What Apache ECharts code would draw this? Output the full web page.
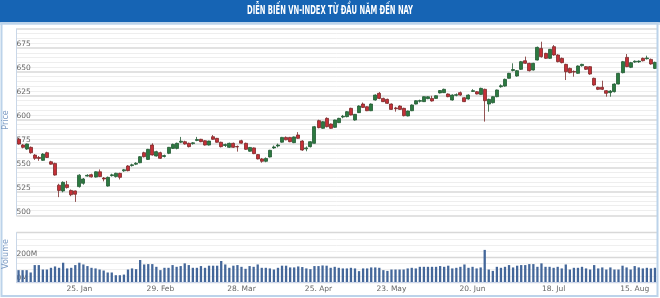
<!DOCTYPE html>
<html><head><meta charset="utf-8">
<script src="https://cdn.jsdelivr.net/npm/echarts@6/dist/echarts.min.js"></script>
<style>html,body{margin:0;padding:0;background:#fff}#c{width:660px;height:298px}</style>
</head><body><div id="c"></div>
<script>
const titleText = 'DIỄN BIẾN VN-INDEX TỪ ĐẦU NĂM ĐẾN NAY';
const priceName = 'Price';
const volumeName = 'Volume';

const dates = [
'2016-01-04','2016-01-05','2016-01-06','2016-01-07','2016-01-08','2016-01-11','2016-01-12','2016-01-13','2016-01-14','2016-01-15',
'2016-01-18','2016-01-19','2016-01-20','2016-01-21','2016-01-22','2016-01-25','2016-01-26','2016-01-27','2016-01-28','2016-01-29',
'2016-02-01','2016-02-02','2016-02-03','2016-02-04','2016-02-05','2016-02-15','2016-02-16','2016-02-17','2016-02-18','2016-02-19',
'2016-02-22','2016-02-23','2016-02-24','2016-02-25','2016-02-26','2016-02-29','2016-03-01','2016-03-02','2016-03-03','2016-03-04',
'2016-03-07','2016-03-08','2016-03-09','2016-03-10','2016-03-11','2016-03-14','2016-03-15','2016-03-16','2016-03-17','2016-03-18',
'2016-03-21','2016-03-22','2016-03-23','2016-03-24','2016-03-25','2016-03-28','2016-03-29','2016-03-30','2016-03-31','2016-04-01',
'2016-04-04','2016-04-05','2016-04-06','2016-04-07','2016-04-08','2016-04-11','2016-04-12','2016-04-13','2016-04-14','2016-04-15',
'2016-04-19','2016-04-20','2016-04-21','2016-04-22','2016-04-25','2016-04-26','2016-04-27','2016-04-28','2016-04-29','2016-05-04',
'2016-05-05','2016-05-06','2016-05-09','2016-05-10','2016-05-11','2016-05-12','2016-05-13','2016-05-16','2016-05-17','2016-05-18',
'2016-05-19','2016-05-20','2016-05-23','2016-05-24','2016-05-25','2016-05-26','2016-05-27','2016-05-30','2016-05-31','2016-06-01',
'2016-06-02','2016-06-03','2016-06-06','2016-06-07','2016-06-08','2016-06-09','2016-06-10','2016-06-13','2016-06-14','2016-06-15',
'2016-06-16','2016-06-17','2016-06-20','2016-06-21','2016-06-22','2016-06-23','2016-06-24','2016-06-27','2016-06-28','2016-06-29',
'2016-06-30','2016-07-01','2016-07-04','2016-07-05','2016-07-06','2016-07-07','2016-07-08','2016-07-11','2016-07-12','2016-07-13',
'2016-07-14','2016-07-15','2016-07-18','2016-07-19','2016-07-20','2016-07-21','2016-07-22','2016-07-25','2016-07-26','2016-07-27',
'2016-07-28','2016-07-29','2016-08-01','2016-08-02','2016-08-03','2016-08-04','2016-08-05','2016-08-08','2016-08-09','2016-08-10',
'2016-08-11','2016-08-12','2016-08-15','2016-08-16','2016-08-17','2016-08-18','2016-08-19','2016-08-22'
];

const opens = [
579.5,573.5,569.3,571.1,563,560.5,557.5,565.5,556,554.3,
531.5,525.5,532,526,525.5,530,533.5,541,542.5,540,
545.5,539,530.6,541.5,540.5,543.9,546.5,551.6,552,553.5,
555,565.5,558.5,573.5,562,565.5,561.5,564.8,570,570,
576.5,577,575.3,575,578.3,579.5,578,573.5,582.2,580.5,
576.4,573,571.1,575.3,572,578,575.3,567,570.5,563.5,
559,556.5,561,570.5,572.5,576.5,581.5,581.5,576,584,
577.7,569.5,571.8,575.3,599,591,601.4,595.5,592,596.9,
602.8,603.2,611.9,599.7,607.4,616.4,613.6,609.4,620.6,627.6,
622.3,621.3,616.4,612.3,614.3,611.9,603.9,609.4,616.4,619.3,
618.9,622,622.3,622.3,628,628.3,626.9,620.6,625.5,628.3,
623,621.7,629.6,629.3,626.5,631.8,616.4,617.8,624.1,634.5,
635.2,643.3,651.5,645.7,652.7,661.7,659,652,662.4,674.6,
669.4,664.2,676.4,667.7,664.2,657.9,653.7,650.5,648.5,656.5,
655.5,655.5,643.3,633.9,633.9,630.4,628.3,629.3,637.3,649.2,
665.2,654.8,660.3,660.5,664.2,663.8,663.1,653.7
];
const closes = [
574.6,571.1,574.6,565.5,559.6,559.5,564,560.5,553.5,542.1,
526,534.5,529,521.5,522,542,538,541.8,540.2,545.5,
540.5,538,539.7,542.3,544,539.7,547.6,546.7,552.8,554.5,
561.3,561.3,569,563.1,566.6,559.6,562.5,571.1,574.2,575.3,
577.5,574.6,571.8,575.8,579.3,577,573.5,577.7,579.5,576.4,
571.8,574,575.3,571.1,571.5,575.5,569,571,564.5,559,
556.5,559.5,568,571.5,573.5,581.5,579,577,582,580.5,
568.3,570.5,577,592.7,591.7,597.9,592.7,591,599.7,601.4,
603.6,608.4,604.9,605.6,614.3,612.9,609.4,616.4,625.8,622.3,
618.9,617.1,610.8,611.5,610.8,604.2,609.1,615.4,619.9,620,
624.1,624,619.6,625.1,630.5,631.8,624.1,625.8,626.2,625.8,
618.9,625.8,630.4,626.9,632.8,619.9,621.3,624.1,631.1,635.5,
642.2,648.5,652.5,651.3,660.7,659,651.3,659,675.7,665.9,
664.2,673.6,667.7,660.7,659.7,650.2,649.2,649.8,656.2,657.9,
652.7,647.8,636.3,631.8,631.8,627.6,630,637.3,648.5,660.7,
655.5,659.7,661.2,661.3,661.7,664.6,658.3,660
];
const lows = [
574,570,568.5,564.5,558,557,557,560,553,541.5,
519,524,528,520,514,529,532,540.5,539.5,539.5,
540,535.5,530,540.5,539.5,537.5,545.5,546,551,552.5,
554.5,560.5,558,562.5,561.5,559,560.5,564,569.5,569,
575.5,574,571,574,577.5,576.5,573,573,579,576,
571,571.5,570.5,570.5,566.6,575,568.5,566.5,564,558.5,
555,555.5,560.5,569.5,571,576,578.5,576.5,575.5,580,
567.5,567,571,575,591,590.5,592,590.5,591.5,596.5,
601.5,602.5,604.5,599,607,612.5,609,609,620,621.5,
618.5,616.5,610.5,608.4,610.5,603.5,603.5,609,616,618,
618.5,621.5,619,622,627.5,628,623.5,620,624.5,625,
618.5,621,629,626.5,626,598,608.4,617,623.5,633.5,
634.5,643,650.5,645,652,658.5,650.5,651.5,662,665,
663.5,663.5,667,660,659,641.5,648.5,645,648,655.5,
652,647,635.5,631,631,624.1,624.1,628.5,637,648.5,
655,654,659.5,659.5,661,663,657.5,653
];
const highs = [
581,574.5,575,572,564,562,565,566.5,557,555,
533,535.5,536,527,526,543,539,543,543.5,546,
548,540,540.5,543.5,544.5,544.5,548.5,552.5,554,555.5,
562,566.5,569.5,575.3,567.5,566.5,563.5,571.5,575,576,
582,578,576,576.5,582,580,578.5,578,584,581,
577,575,576,576,573,579,576,571.5,571,564,
560,560.5,568.5,573,575,582,582.5,582,582.5,587,
578.5,572,577.5,593.5,600,598.5,602.5,596,600,602,
605,609,612.5,606,615,618,614,617,626.5,629,
623,622,617,613.5,615,612.5,609.5,616,620.5,621,
624.5,624.5,625,625.5,631,632.5,627.5,626.5,627.5,629.5,
623.5,626.5,632,630,633.5,632.5,622,624.5,631.5,637,
643,649,659,652,661.5,666,659.5,659.5,676.5,681.6,
670,674,678.1,668.5,665,658.5,654.5,651.5,656.8,658.5,
656,656,644,634.5,640.8,631,631,638,649,661.5,
668.7,660.5,662,662,665,667,664,660.7
];
// volume in millions of shares
const volumes = [
96,96,96,77,137,137,101,101,115,126,
115,156,110,115,137,156,142,129,115,110,
101,93,77,77,55,55,60,101,110,104,
178,142,145,145,123,96,115,115,137,123,
129,151,137,115,115,129,115,132,132,132,
170,142,115,132,137,123,107,129,123,142,
115,115,110,101,115,132,132,118,118,126,
121,110,104,129,129,134,132,115,123,115,
110,110,115,110,88,110,110,118,118,115,
96,90,101,101,101,101,110,115,110,123,
123,123,123,123,129,123,132,110,115,123,
142,115,123,110,118,260,101,90,123,115,
123,137,118,132,137,137,145,145,123,151,
123,123,115,123,110,142,101,115,115,123,
110,101,137,110,118,101,118,101,101,132,
118,101,129,118,110,115,110,115
];
const tickDates = ['2016-01-25','2016-02-29','2016-03-28','2016-04-25','2016-05-23','2016-06-20','2016-07-18','2016-08-15'];
const tickLabels = ['25. Jan','29. Feb','28. Mar','25. Apr','23. May','20. Jun','18. Jul','15. Aug'];

const candleData = dates.map((d, i) => [opens[i], closes[i], lows[i], highs[i]]);

const chart = echarts.init(document.getElementById('c'), null, {renderer: 'canvas'});

// compress the title like the condensed original
const titleFont = 'bold 11.5px "DejaVu Sans Condensed", "DejaVu Sans", sans-serif';
const cv = document.createElement('canvas').getContext('2d');
cv.font = titleFont;
const tw = cv.measureText(titleText).width;
const titleScale = Math.min(1, 166 / tw);

const labelColor = '#666';
const labelFont = 'DejaVu Sans';
const GL = 16.5, GW = 640.5;

const yLabel = {inside: true, margin: 0, verticalAlign: 'bottom', lineHeight: 7.5,
  fontFamily: labelFont, fontSize: 7.5, color: labelColor, showMaxLabel: false};

chart.setOption({
  animation: false,
  backgroundColor: '#fff',
  grid: [
    {left: GL, width: GW, top: 28.9, height: 186.4},
    {left: GL, width: GW, top: 232.6, height: 49.4}
  ],
  xAxis: [
    {type: 'category', gridIndex: 0, data: dates, boundaryGap: true,
     axisLine: {show: false}, axisTick: {show: false}, axisLabel: {show: false}, splitLine: {show: false}},
    {type: 'category', gridIndex: 1, data: dates, boundaryGap: true,
     axisLine: {show: true, lineStyle: {color: '#ccd6eb', width: 1}},
     axisTick: {show: false},
     axisLabel: {
       show: true, hideOverlap: false, margin: 3,
       fontFamily: labelFont, fontSize: 7.5, color: labelColor,
       interval: (idx, val) => tickDates.indexOf(val) >= 0,
       formatter: (val) => { const k = tickDates.indexOf(val); return k >= 0 ? tickLabels[k] : ''; }
     },
     splitLine: {show: false}}
  ],
  yAxis: [
    {type: 'value', gridIndex: 0, min: 500, max: 695, interval: 25, position: 'left',
     axisLine: {show: true, lineStyle: {color: '#c9d7e8', width: 1}},
     axisTick: {show: false},
     minorTick: {show: false, splitNumber: 5},
     minorSplitLine: {show: true, lineStyle: {color: '#eeeeee', width: 1}},
     splitLine: {show: true, lineStyle: {color: '#d8d8d8', width: 1.6}},
     axisLabel: yLabel},
    {type: 'value', gridIndex: 1, min: 0, max: 400, interval: 200, position: 'left',
     axisLine: {show: true, lineStyle: {color: '#c9d7e8', width: 1}},
     axisTick: {show: false},
     minorTick: {show: false, splitNumber: 4},
     minorSplitLine: {show: true, lineStyle: {color: '#efefef', width: 1}},
     splitLine: {show: true, lineStyle: {color: '#d8d8d8', width: 1.4}},
     axisLabel: Object.assign({}, yLabel, {formatter: (v) => v + 'M'})}
  ],
  series: [
    {type: 'candlestick', xAxisIndex: 0, yAxisIndex: 0, data: candleData, barWidth: 3.5,
     itemStyle: {color: '#2c7a40', color0: '#c62f37', borderColor: '#235a35', borderColor0: '#7a2a2a', borderWidth: 0.8}},
    {type: 'bar', xAxisIndex: 1, yAxisIndex: 1, data: volumes, barWidth: 2.3,
     itemStyle: {color: '#44679a'}}
  ],
  graphic: [
    {type: 'rect', shape: {x: 0, y: 0, width: 660, height: 22.5}, style: {fill: '#1664b4'}, z: 10},
    {type: 'rect', shape: {x: 0, y: 22.5, width: 660, height: 2.5}, style: {fill: '#cfe0f1'}, z: 10},
    {type: 'rect', shape: {x: 1.5, y: 23, width: 656, height: 273}, style: {fill: 'none', stroke: '#bcd3ea', lineWidth: 2}, z: 10},
    {type: 'text', x: 330, y: 11.5, scaleX: titleScale, z: 11,
     style: {text: titleText, fill: '#ffffff', font: titleFont, textAlign: 'center', align: 'center', textVerticalAlign: 'middle', verticalAlign: 'middle'}},
    {type: 'text', x: 6, y: 120, rotation: Math.PI / 2, z: 11,
     style: {text: priceName, fill: '#7d9cc4', font: '8px "DejaVu Sans", sans-serif', textAlign: 'center', align: 'center', textVerticalAlign: 'middle', verticalAlign: 'middle'}},
    {type: 'text', x: 6, y: 254, rotation: Math.PI / 2, z: 11,
     style: {text: volumeName, fill: '#7d9cc4', font: '8px "DejaVu Sans", sans-serif', textAlign: 'center', align: 'center', textVerticalAlign: 'middle', verticalAlign: 'middle'}}
  ]
});
</script></body></html>
